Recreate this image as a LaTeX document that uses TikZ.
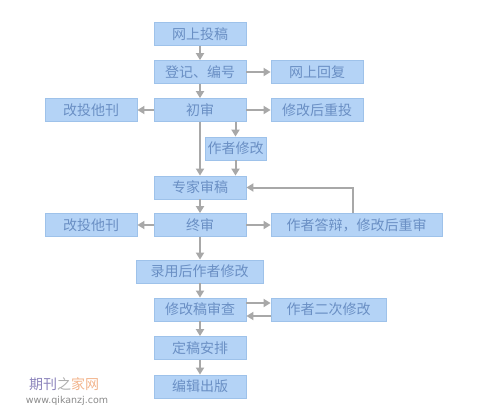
\documentclass[tikz,border=0pt]{standalone}
\usepackage{fontspec}
\newfontfamily\cjk{Noto Sans CJK SC}
\setmainfont{DejaVu Sans}
\usetikzlibrary{arrows.meta}
\definecolor{boxfill}{HTML}{B4D3F6}
\definecolor{boxline}{HTML}{9EC2EA}
\definecolor{boxtext}{HTML}{6A8FC4}
\definecolor{arrowc}{HTML}{A8A8A8}
\definecolor{wmpurple}{HTML}{8C84BC}
\definecolor{wmorange}{HTML}{F2B48C}
\definecolor{wmgray}{HTML}{8A8A8A}
\tikzset{
  box/.style={draw=boxline, fill=boxfill, line width=0.8pt, inner sep=0pt,
    text=boxtext, font=\cjk\fontsize{14}{14}\selectfont},
  arr/.style={draw=arrowc, line width=2pt, -{Triangle[length=7pt,width=8pt]}},
}
\begin{document}
\begin{tikzpicture}[x=1pt,y=-1pt]
\useasboundingbox (0,0) rectangle (489,415);
\newcommand{\bx}[6]{\node[box, minimum width=#4, minimum height=#5] (#1) at (#2,#3) {#6};}
\bx{tg}{200}{34}{92}{23}{网上投稿}
\bx{dj}{200}{72}{92}{23}{登记、编号}
\bx{hf}{317}{72}{92}{23}{网上回复}
\bx{cs}{200}{110}{92}{23}{初审}
\bx{gt1}{91}{110}{92}{23}{改投他刊}
\bx{cx}{317}{110}{92}{23}{修改后重投}
\bx{zx}{235.5}{148.5}{61}{23}{作者修改}
\bx{zj}{200}{187.5}{92}{23}{专家审稿}
\bx{zs}{200}{225}{92}{23}{终审}
\bx{gt2}{91}{225}{92}{23}{改投他刊}
\bx{db}{356.5}{225}{171}{23}{作者答辩，修改后重审}
\bx{ly}{199.5}{271.5}{127}{23}{录用后作者修改}
\bx{sc}{200}{309.5}{92}{23}{修改稿审查}
\bx{ec}{328.5}{309.5}{115}{23}{作者二次修改}
\bx{dg}{200}{348}{92}{23}{定稿安排}
\bx{cb}{200}{386.5}{92}{23}{编辑出版}

\draw[arr] (tg) -- (dj);
\draw[arr] (dj) -- (hf);
\draw[arr] (dj) -- (cs);
\draw[arr] (cs) -- (gt1);
\draw[arr] (cs) -- (cx);
\draw[arr] (cs.south) -- (zj.north);
\draw[arr] (cs.south -| zx) -- (zx.north);
\draw[arr] (zx.south) -- (zx.south |- zj.north);
\draw[arr] (zj) -- (zs);
\draw[arr] (zs) -- (gt2);
\draw[arr] (zs) -- (db);
\draw[arr] (db.north -| 353,0) |- (zj.east);
\draw[arr] (zs) -- (zs |- ly.north);
\draw[arr] (ly.south -| sc) -- (sc);
\draw[arr] ([yshift=6.5pt]sc.east) -- ([yshift=6.5pt]ec.west);
\draw[arr] ([yshift=-6.5pt]ec.west) -- ([yshift=-6.5pt]sc.east);
\draw[arr] (sc) -- (dg);
\draw[arr] (dg) -- (cb);

\node[font=\cjk\fontsize{14}{14}\selectfont, inner sep=0pt] (wm1) at (64,384)
  {\textcolor{wmpurple}{期刊}\textcolor{wmgray!70}{之}\textcolor{wmorange}{家网}};
\node[font=\fontsize{9.5}{10}\selectfont, text=wmgray, inner sep=0pt] (wm2) at (67,401) {www.qikanzj.com};
\end{tikzpicture}
\end{document}
